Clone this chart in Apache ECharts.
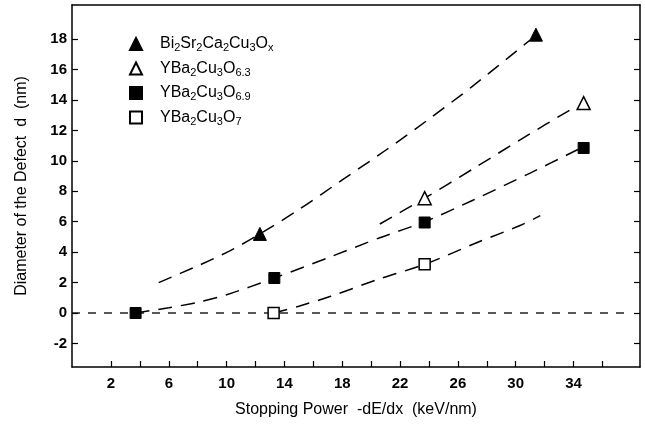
<!DOCTYPE html>
<html>
<head>
<meta charset="utf-8">
<script src="https://cdn.jsdelivr.net/npm/echarts@6/dist/echarts.min.js"></script>
<style>
html,body{margin:0;padding:0;background:#fff;}
#chart{width:645px;height:425px;}
</style>
</head>
<body>
<div id="chart"></div>
<script>
// ---- data ----
const seriesNames = ['Bi2Sr2Ca2Cu3Ox', 'YBa2Cu3O6.3', 'YBa2Cu3O6.9', 'YBa2Cu3O7'];

// measured points [stopping power, diameter]
const biPoints   = [[12.3, 5.2], [31.4, 18.3]];
const o63Points  = [[23.7, 7.55], [34.7, 13.8]];
const o69Points  = [[3.7, 0.0], [13.3, 2.3], [23.7, 5.95], [34.7, 10.85]];
const o7Points   = [[13.25, 0.0], [23.7, 3.2]];

// dashed guide curves
const biCurve  = [[5.3, 2.0], [8, 3.1], [10.25, 4.1], [12.3, 5.2], [15, 6.8], [18, 8.75], [21, 10.7], [24, 12.75], [27, 14.9], [31, 17.95]];
const o63Curve = [[20.6, 5.85], [23.7, 7.55], [27, 9.45], [30.5, 11.5], [34.2, 13.6]];
const o69Curve = [[3.7, 0.0], [6, 0.35], [8, 0.7], [10, 1.2], [13.3, 2.3], [17.2, 3.7], [20.6, 4.95], [23.7, 6.0], [27, 7.4], [31, 9.2], [34.3, 10.75]];
const o7Curve  = [[13.25, 0.0], [15, 0.45], [17.2, 1.1], [20.6, 2.25], [23.7, 3.2], [27.5, 4.7], [30.3, 5.75], [31.7, 6.4]];
const zeroLine = [[-0.7, 0], [38.0, 0]];

const xTicks  = [2, 4, 6, 8, 10, 12, 14, 16, 18, 20, 22, 24, 26, 28, 30, 32, 34, 36];
const xLabels = [2, 6, 10, 14, 18, 22, 26, 30, 34];
const yTicks  = [-2, 0, 2, 4, 6, 8, 10, 12, 14, 16, 18];

const xTitle = 'Stopping Power  -dE/dx  (keV/nm)';
const yTitle = 'Diameter of the Defect  d  (nm)';

// ---- chart ----
const FONT = 'Liberation Sans';
const chart = echarts.init(document.getElementById('chart'), null, {renderer: 'canvas'});

const filled = {color: '#000', borderColor: '#000', borderWidth: 1, opacity: 1};
const open = {color: '#fff', borderColor: '#000', borderWidth: 1.5, opacity: 1};
const dash = {color: '#000', width: 1.5, type: [14, 9]};

function curve(data) {
  return {type: 'line', data: data, showSymbol: false, smooth: 0.3, silent: true,
          lineStyle: dash, z: 2, legendHoverLink: false};
}
function richName(name) {
  return '{n|' + name.replace(/(\d+(?:\.\d+)?|x$)/g, function (m) { return '}{s|' + m + '}{n|'; }) + '}';
}

const axisLineStyle = {color: '#000', width: 1.5};

chart.setOption({
  backgroundColor: '#fff',
  animation: false,
  grid: {left: 72, right: 5, top: 5, bottom: 58, containLabel: false, outerBoundsMode: 'none'},
  legend: {
    data: seriesNames,
    orient: 'vertical',
    left: 124, top: 31,
    itemWidth: 12, itemHeight: 12, itemGap: 7,
    formatter: richName,
    textStyle: {
      padding: [0, 0, 0, 13],
      rich: {
        n: {fontFamily: FONT, fontSize: 16, color: '#000', lineHeight: 19},
        s: {fontFamily: FONT, fontSize: 11, color: '#000', lineHeight: 10, verticalAlign: 'bottom'}
      }
    }
  },
  xAxis: [{
    type: 'value', min: -0.7, max: 38.6, position: 'bottom',
    name: xTitle, nameLocation: 'middle', nameGap: 35,
    nameTextStyle: {fontFamily: FONT, fontSize: 16, color: '#000'},
    axisLine: {show: true, onZero: false, lineStyle: axisLineStyle},
    axisTick: {show: true, inside: false, length: -6, lineStyle: {color: '#000', width: 1.2}, customValues: xTicks},
    axisLabel: {show: true, inside: false, customValues: xLabels, fontFamily: FONT, fontSize: 15, fontWeight: 'bold', color: '#000', margin: 9},
    splitLine: {show: false}
  }, {
    type: 'value', min: -0.7, max: 38.6, position: 'top',
    axisLine: {show: true, onZero: false, lineStyle: axisLineStyle},
    axisTick: {show: false}, axisLabel: {show: false}, splitLine: {show: false}
  }],
  yAxis: [{
    type: 'value', min: -3.55, max: 20.25, position: 'left',
    name: yTitle, nameLocation: 'middle', nameGap: 42, nameRotate: 90,
    nameTextStyle: {fontFamily: FONT, fontSize: 16, color: '#000'},
    axisLine: {show: true, onZero: false, lineStyle: axisLineStyle},
    axisTick: {show: true, inside: true, length: 6, lineStyle: {color: '#000', width: 1.2}, customValues: yTicks},
    axisLabel: {show: true, inside: false, customValues: yTicks, fontFamily: FONT, fontSize: 15, fontWeight: 'bold', color: '#000', margin: 5},
    splitLine: {show: false}
  }, {
    type: 'value', min: -3.55, max: 20.25, position: 'right',
    axisLine: {show: true, onZero: false, lineStyle: axisLineStyle},
    axisTick: {show: true, inside: true, length: 6, lineStyle: {color: '#000', width: 1.2}, customValues: yTicks},
    axisLabel: {show: false}, splitLine: {show: false}
  }],
  series: [
    {type: 'line', data: zeroLine, showSymbol: false, silent: true, z: 1,
     lineStyle: {color: '#000', width: 1.3, type: [8, 8]}},
    curve(biCurve), curve(o63Curve), curve(o69Curve), curve(o7Curve),
    {name: seriesNames[0], type: 'scatter', data: biPoints, symbol: 'triangle', symbolSize: 13, itemStyle: filled, z: 5},
    {name: seriesNames[1], type: 'scatter', data: o63Points, symbol: 'triangle', symbolSize: 13, itemStyle: open, z: 5},
    {name: seriesNames[2], type: 'scatter', data: o69Points, symbol: 'rect', symbolSize: 11, itemStyle: filled, z: 5},
    {name: seriesNames[3], type: 'scatter', data: o7Points, symbol: 'rect', symbolSize: 11, itemStyle: open, z: 5}
  ]
});
</script>
</body>
</html>
